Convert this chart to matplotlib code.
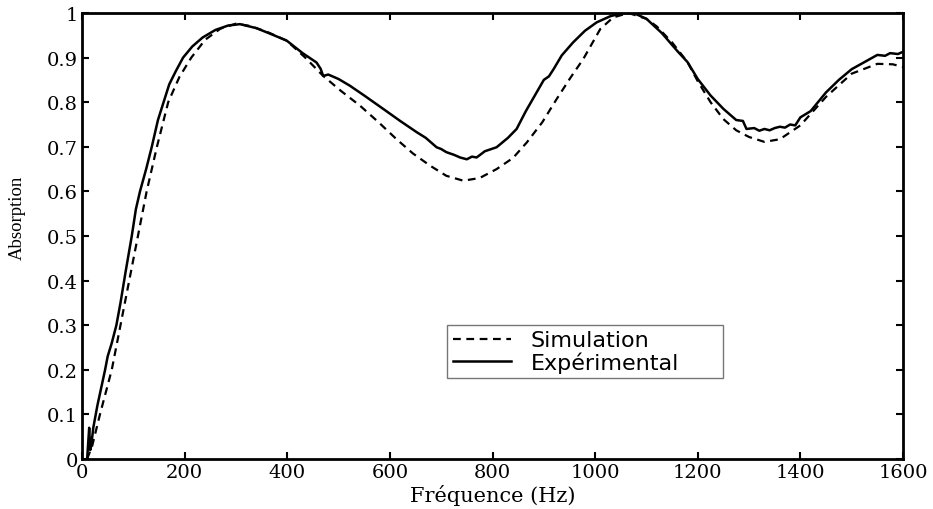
import matplotlib
matplotlib.use("Agg")
import matplotlib.pyplot as plt

# Simulation (dashed)
freq_sim = [10, 20, 35, 58, 75, 92, 109, 126, 146, 168, 190, 213, 240, 270, 300,
            327, 360, 399, 435, 470, 505, 542, 578, 613, 645, 678, 710, 743, 775,
            808, 840, 867, 897, 925, 952, 977, 1010, 1035, 1065, 1100, 1120, 1150,
            1180, 1200, 1225, 1250, 1275, 1300, 1330, 1360, 1400, 1450, 1500, 1550,
            1580, 1600]
abs_sim = [0.0, 0.03, 0.10, 0.20, 0.30, 0.40, 0.50, 0.60, 0.70, 0.80, 0.857, 0.90,
           0.94, 0.965, 0.976, 0.971, 0.958, 0.938, 0.90, 0.859, 0.825, 0.792,
           0.755, 0.717, 0.685, 0.658, 0.635, 0.624, 0.630, 0.650, 0.675, 0.710,
           0.755, 0.807, 0.855, 0.897, 0.964, 0.99, 1.0, 0.987, 0.97, 0.934, 0.89,
           0.847, 0.80, 0.762, 0.737, 0.722, 0.711, 0.717, 0.748, 0.812, 0.864,
           0.886, 0.885, 0.879]

# Experimental (solid)
freq_exp = [10, 14, 16, 18, 22, 30, 45, 50, 58, 67, 75, 85, 97, 105, 113, 125, 136,
            148, 159, 170, 183, 197, 215, 235, 260, 285, 308, 340, 370, 399, 430,
            457, 465, 470, 480, 500, 522, 550, 587, 620, 652, 670, 691, 700, 710,
            725, 737, 750, 760, 769, 785, 808, 830, 847, 865, 886, 900, 910, 919,
            935, 957, 980, 1003, 1030, 1055, 1075, 1100, 1130, 1160, 1180, 1200,
            1225, 1250, 1275, 1288, 1295, 1310, 1320, 1330, 1340, 1350, 1360, 1370,
            1380, 1390, 1400, 1420, 1450, 1475, 1500, 1525, 1550, 1565, 1575, 1590,
            1600]
abs_exp = [0.0, 0.07, 0.02, 0.03, 0.07, 0.12, 0.20, 0.23, 0.26, 0.30, 0.35, 0.42,
           0.50, 0.56, 0.60, 0.65, 0.70, 0.76, 0.80, 0.84, 0.87, 0.90, 0.925, 0.945,
           0.962, 0.972, 0.975, 0.966, 0.952, 0.938, 0.91, 0.889, 0.875, 0.859,
           0.862, 0.852, 0.837, 0.815, 0.785, 0.758, 0.733, 0.72, 0.699, 0.695,
           0.688, 0.682, 0.676, 0.672, 0.678, 0.676, 0.69, 0.699, 0.72, 0.74, 0.78,
           0.822, 0.85, 0.858, 0.874, 0.905, 0.934, 0.96, 0.979, 0.993, 1.0, 1.0,
           0.987, 0.955, 0.915, 0.89, 0.852, 0.815, 0.785, 0.76, 0.758, 0.74,
           0.742, 0.736, 0.74, 0.737, 0.742, 0.745, 0.743, 0.75, 0.748, 0.766,
           0.78, 0.822, 0.85, 0.874, 0.89, 0.906, 0.904, 0.91, 0.908, 0.913]

xticks = [0, 200, 400, 600, 800, 1000, 1200, 1400, 1600]
yticks = [0, 0.1, 0.2, 0.3, 0.4, 0.5, 0.6, 0.7, 0.8, 0.9, 1]
ytick_labels = ["0", "0.1", "0.2", "0.3", "0.4", "0.5", "0.6", "0.7", "0.8", "0.9", "1"]

fig = plt.figure(figsize=(9.33, 5.10), dpi=100)
ax = fig.add_axes([82/933, 50/510, 821/933, 446/510])

ax.plot(freq_sim, abs_sim, color="black", lw=1.6, ls=(0, (3.5, 2.5)), label="Simulation")
ax.plot(freq_exp, abs_exp, color="black", lw=1.8, label="Expérimental")

ax.set_xlim(0, 1600)
ax.set_ylim(0, 1)
ax.set_xticks(xticks)
ax.set_yticks(yticks)
ax.set_yticklabels(ytick_labels)

for s in ax.spines.values():
    s.set_linewidth(2.0)
ax.tick_params(direction="in", length=5, width=1.5, top=True, right=True,
               labelsize=14, pad=3)
for lab in ax.get_xticklabels() + ax.get_yticklabels():
    lab.set_fontfamily("DejaVu Serif")

ax.set_xlabel("Fréquence (Hz)", fontsize=15, family="DejaVu Serif", labelpad=2)
ax.set_ylabel("Absorption", fontsize=13.5, family="Liberation Serif")
ax.yaxis.set_label_coords(-0.068, 0.543)

leg = ax.legend(loc="upper left", bbox_to_anchor=(0.445, 0.18, 0.336, 0.121),
                mode="expand",
                prop={"family": "DejaVu Sans", "size": 16},
                frameon=True, fancybox=False, shadow=False,
                handlelength=2.6, handletextpad=0.9, labelspacing=0.05,
                borderpad=0.25, borderaxespad=0.0)
leg.get_frame().set_edgecolor("#555555")
leg.get_frame().set_linewidth(1.0)

fig.savefig("out.png", dpi=100)
